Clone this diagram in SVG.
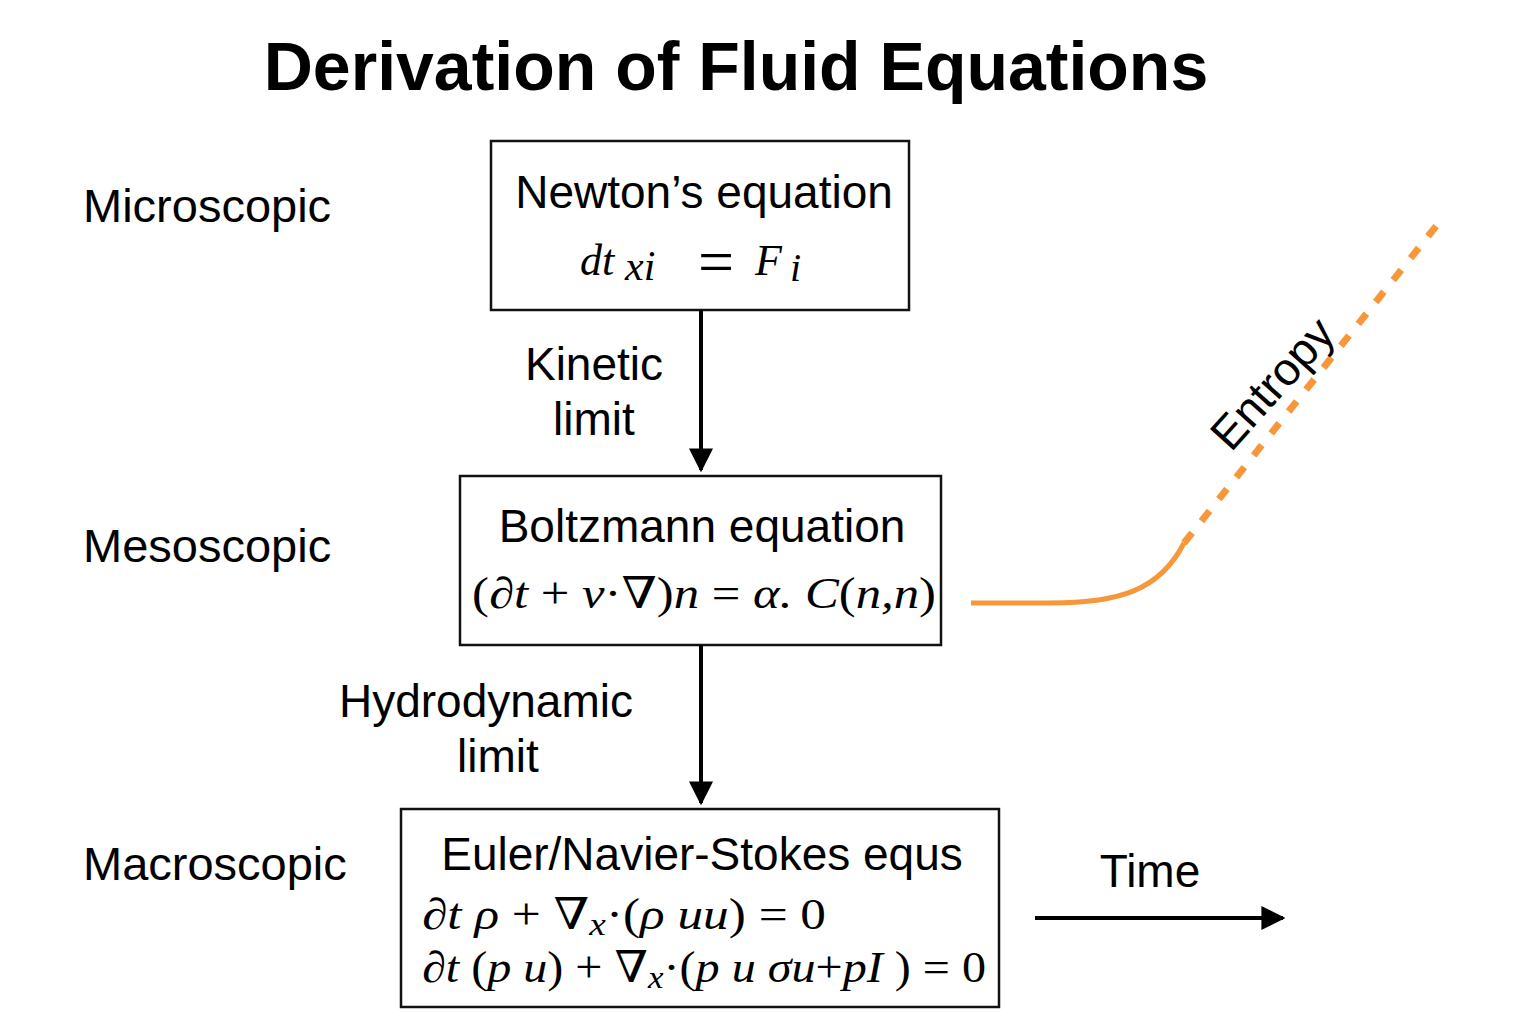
<svg xmlns="http://www.w3.org/2000/svg" width="1536" height="1024" viewBox="0 0 1536 1024">
<defs>
<style>
.sans{font-family:"Liberation Sans",Arial,sans-serif;fill:#000}
.lvl{font-size:47px}
.hd{font-size:46px;text-anchor:middle}
.lbl{font-size:46px;text-anchor:middle}
.math{font-family:"Liberation Serif","DejaVu Serif",serif;font-style:italic;font-size:44px;fill:#000}
.up{font-style:normal}
.box{fill:#fff;stroke:#111;stroke-width:2.5}
.conn{stroke:#000;stroke-width:4;fill:none}
</style>
<marker id="ah" viewBox="0 0 10 10" refX="9" refY="5" markerWidth="6" markerHeight="6" markerUnits="strokeWidth" orient="auto"><path d="M0,0 L10,5 L0,10 Z" fill="#000"/></marker>
</defs>
<rect width="1536" height="1024" fill="#fff"/>
<text x="736" y="90" class="sans" font-size="68" text-anchor="middle" style="font-weight:600">Derivation of Fluid Equations</text>

<g id="levels">
<text x="83" y="222" class="sans lvl">Microscopic</text>
<text x="83" y="562" class="sans lvl">Mesoscopic</text>
<text x="83" y="880" class="sans lvl">Macroscopic</text>
</g>

<g id="newton">
<rect x="491" y="141" width="418" height="169" class="box"/>
<text x="704" y="208" class="sans hd">Newton’s equation</text>
<text y="275" class="math" font-size="54"><tspan x="580">dt</tspan><tspan x="625" font-size="42" dy="5">xi</tspan><tspan x="698" dy="3" class="up" font-size="64">=</tspan><tspan x="755" dy="-8">F</tspan><tspan x="790" font-size="40" dy="6">i</tspan></text>
</g>

<g id="boltzmann">
<rect x="460" y="476" width="481" height="169" class="box"/>
<text x="702" y="542" class="sans hd">Boltzmann equation</text>
<text x="472" y="608" class="math" textLength="464" lengthAdjust="spacingAndGlyphs"><tspan class="up">(∂</tspan>t <tspan class="up">+</tspan> v<tspan class="up">·∇)</tspan>n <tspan class="up">=</tspan> α. C<tspan class="up">(</tspan>n,n<tspan class="up">)</tspan></text>
</g>

<g id="euler">
<rect x="401" y="809" width="598" height="198" class="box"/>
<text x="702" y="870" class="sans hd">Euler/Navier-Stokes equs</text>
<text x="422" y="929" class="math" textLength="404" lengthAdjust="spacingAndGlyphs"><tspan class="up">∂</tspan>t ρ <tspan class="up">+ ∇</tspan><tspan font-size="32" dy="6">x</tspan><tspan dy="-6" class="up">·(</tspan>ρ uu<tspan class="up">) = 0</tspan></text>
<text x="422" y="982" class="math" textLength="564" lengthAdjust="spacingAndGlyphs"><tspan class="up">∂</tspan>t <tspan class="up">(</tspan>p u<tspan class="up">) + ∇</tspan><tspan font-size="32" dy="6">x</tspan><tspan dy="-6" class="up">·(</tspan>p u σu<tspan class="up">+</tspan>pI <tspan class="up">) = 0</tspan></text>
</g>

<g id="connectors">
<line x1="701" y1="310" x2="701" y2="470" class="conn" marker-end="url(#ah)"/>
<line x1="701" y1="645" x2="701" y2="803" class="conn" marker-end="url(#ah)"/>
<line x1="1035" y1="918" x2="1283" y2="918" class="conn" marker-end="url(#ah)"/>
<path d="M971,603 L1050,603 C1120,603 1160,590 1184,543" fill="none" stroke="#F7973A" stroke-width="5"/>
<path d="M1184,543 L1437,225" fill="none" stroke="#F7973A" stroke-width="7" stroke-dasharray="13,15"/>
</g>

<g id="labels">
<text x="594" y="380" class="sans lbl">Kinetic</text>
<text x="594" y="435" class="sans lbl">limit</text>
<text x="486" y="717" class="sans lbl">Hydrodynamic</text>
<text x="498" y="772" class="sans lbl">limit</text>
<text x="1150" y="887" class="sans lbl">Time</text>
<text x="0" y="0" class="sans lbl" transform="translate(1284,394) rotate(-48)">Entropy</text>
</g>
</svg>
